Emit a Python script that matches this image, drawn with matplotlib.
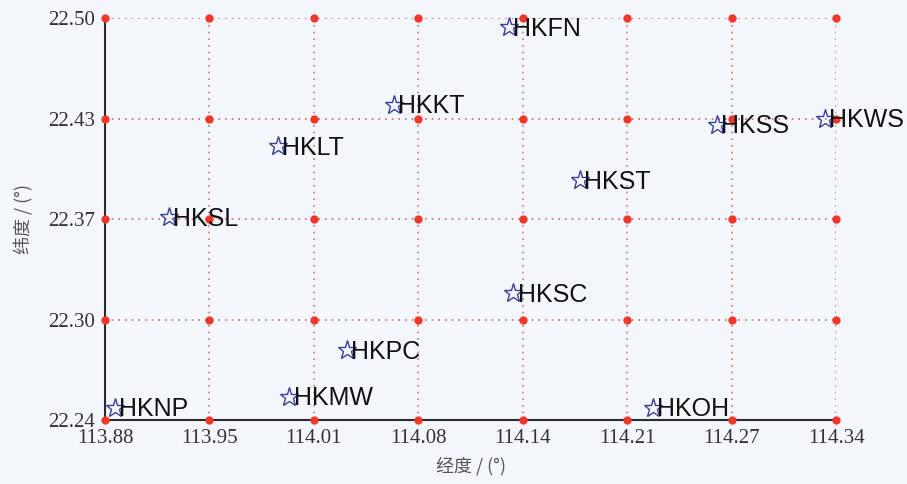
import numpy as np
import matplotlib
matplotlib.use("Agg")
import matplotlib.pyplot as plt

stations = ["HKFN", "HKKT", "HKLT", "HKSL", "HKSC", "HKPC",
            "HKMW", "HKNP", "HKOH", "HKST", "HKSS", "HKWS"]
lon = [114.134, 114.062, 113.989, 113.920, 114.137, 114.032,
       113.996, 113.886, 114.225, 114.179, 114.265, 114.333]
lat = [22.494, 22.444, 22.417, 22.371, 22.322, 22.285,
       22.255, 22.248, 22.248, 22.395, 22.431, 22.435]

xticks = np.linspace(113.88, 114.34, 8)
yticks = np.linspace(22.24, 22.50, 5)
xticklabels = ["113.88", "113.95", "114.01", "114.08", "114.14", "114.21", "114.27", "114.34"]
yticklabels = ["22.24", "22.30", "22.37", "22.43", "22.50"]

bg = "#f3f7fb"
fig = plt.figure(figsize=(9.07, 4.84), dpi=100, facecolor=bg)
ax = fig.add_axes([0.1158, 0.1322, 0.806, 0.8306], facecolor=bg)

ax.set_xlim(113.88, 114.34)
ax.set_ylim(22.24, 22.50)

# dotted grid
for x in xticks:
    ax.axvline(x, color="#d9707a", ls=(0, (1, 3)), lw=1.2, zorder=1)
for y in yticks:
    ax.axhline(y, color="#c86a6a", ls=(0, (1, 3)), lw=1.2, zorder=1)

# red dots at grid intersections
gx, gy = np.meshgrid(xticks, yticks)
ax.plot(gx.ravel(), gy.ravel(), "o", color="#f0382a", ms=6, mec="none",
        zorder=3, clip_on=False)

# stations
ax.plot(lon, lat, "*", ms=14, mfc="none", mec="#3b3f9c", mew=1.0,
        zorder=4, clip_on=False, ls="none")
for name, x, y in zip(stations, lon, lat):
    ax.annotate(name, (x, y), xytext=(3, -1), textcoords="offset points",
                ha="left", va="center", fontsize=18, color="#111111",
                family="Liberation Sans", zorder=5, annotation_clip=False)

ax.set_xticks(xticks)
ax.set_xticklabels(xticklabels)
ax.set_yticks(yticks)
ax.set_yticklabels(yticklabels)
ax.tick_params(axis="x", length=0, pad=6.5, labelsize=15, labelcolor="#333333")
ax.tick_params(axis="y", length=0, pad=7, labelsize=15, labelcolor="#333333")
for lab in ax.get_xticklabels() + ax.get_yticklabels():
    lab.set_family("Liberation Serif")

for s in ["top", "right"]:
    ax.spines[s].set_visible(False)
for s in ["left", "bottom"]:
    ax.spines[s].set_color("#2a2a2a")
    ax.spines[s].set_linewidth(1.5)

ax.set_xlabel("经度 / (°)", family=["Noto Sans CJK SC", "DejaVu Sans"],
              fontsize=13, color="#555555", labelpad=6)
ax.set_ylabel("纬度 / (°)", family=["Noto Sans CJK SC", "DejaVu Sans"],
              fontsize=13, color="#555555", labelpad=11)

fig.savefig("out.png", dpi=100, facecolor=bg)
